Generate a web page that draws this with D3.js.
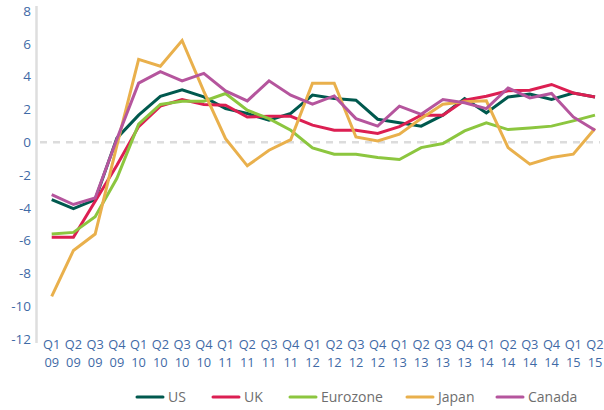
<!DOCTYPE html>
<html>
<head>
<meta charset="utf-8">
<script src="https://cdn.jsdelivr.net/npm/d3@7"></script>
<style>
  html, body { margin: 0; padding: 0; background: #fff; }
  svg { display: block; font-family: "Open Sans", "Noto Sans", sans-serif; }
</style>
</head>
<body>
<svg id="chart" width="604" height="410"></svg>
<script>
// Quarterly GDP growth, year on year (%)
const quarters = ["Q1 09","Q2 09","Q3 09","Q4 09","Q1 10","Q2 10","Q3 10","Q4 10",
  "Q1 11","Q2 11","Q3 11","Q4 11","Q1 12","Q2 12","Q3 12","Q4 12",
  "Q1 13","Q2 13","Q3 13","Q4 13","Q1 14","Q2 14","Q3 14","Q4 14","Q1 15","Q2 15"];

const us       = [-3.5, -4.05, -3.5, 0.25, 1.65, 2.8, 3.2, 2.76, 2.05, 1.75, 1.34, 1.75, 2.87, 2.66, 2.56, 1.4, 1.18, 0.98, 1.65, 2.66, 1.79, 2.76, 2.93, 2.6, 3.0, 2.76];
const uk       = [-5.8, -5.8, -3.6, -1.4, 0.95, 2.2, 2.6, 2.3, 2.26, 1.54, 1.58, 1.58, 1.04, 0.73, 0.73, 0.53, 0.95, 1.65, 1.65, 2.56, 2.8, 3.13, 3.17, 3.52, 3.0, 2.76];
const eurozone = [-5.6, -5.5, -4.55, -2.2, 1.1, 2.3, 2.5, 2.5, 2.97, 1.95, 1.44, 0.73, -0.35, -0.73, -0.73, -0.93, -1.06, -0.33, -0.08, 0.69, 1.18, 0.77, 0.87, 0.98, 1.3, 1.65];
const japan    = [-9.4, -6.6, -5.6, -0.2, 5.05, 4.63, 6.2, 3.1, 0.22, -1.44, -0.49, 0.16, 3.6, 3.6, 0.32, 0.08, 0.49, 1.44, 2.32, 2.46, 2.52, -0.33, -1.34, -0.93, -0.73, 0.83];
const canada   = [-3.2, -3.8, -3.4, 0.2, 3.6, 4.3, 3.74, 4.2, 3.13, 2.52, 3.74, 2.87, 2.32, 2.82, 1.44, 0.98, 2.2, 1.7, 2.6, 2.4, 2.05, 3.31, 2.7, 2.97, 1.54, 0.73];

const seriesNames  = ["US", "UK", "Eurozone", "Japan", "Canada"];
const seriesColors = ["#00594e", "#dc1f52", "#8cc63f", "#e9b04c", "#b5559d"];
const yTicks = [-12, -10, -8, -6, -4, -2, 0, 2, 4, 6, 8];

const series = [us, uk, eurozone, japan, canada].map((values, i) => ({
  name: seriesNames[i], color: seriesColors[i], values
}));

const svg = d3.select("#chart");

const x = d3.scalePoint().domain(quarters).range([51.7, 595]);
const y = d3.scaleLinear().domain([-12, 8]).range([339, 11]);

// Vertical axis rule
svg.append("line")
  .attr("x1", 36.5).attr("x2", 36.5)
  .attr("y1", 6).attr("y2", 343)
  .attr("stroke", "#dedede").attr("stroke-width", 2.5);

// Y axis labels
const yAxis = d3.axisLeft(y).tickValues(yTicks).tickSize(0).tickPadding(0)
  .tickFormat(d => d);
const yg = svg.append("g").attr("transform", "translate(31,0)").call(yAxis);
yg.select(".domain").remove();
yg.selectAll("text")
  .attr("fill", "#3f6aa6")
  .style("font-size", "13.5px")
  .style("font-family", "'Open Sans', sans-serif");

// Zero reference line
svg.append("line")
  .attr("x1", 40).attr("x2", 600)
  .attr("y1", y(0)).attr("y2", y(0))
  .attr("stroke", "#dcdcdc").attr("stroke-width", 2.5)
  .attr("stroke-dasharray", "7,6");

// X axis labels: quarter on the first line, year below
const xg = svg.append("g")
  .attr("fill", "#3f6aa6")
  .style("font-size", "12.8px");
quarters.forEach(q => {
  const [qq, yr] = q.split(" ");
  xg.append("text")
    .attr("x", x(q)).attr("y", 345).attr("dy", "0.35em")
    .attr("text-anchor", "middle")
    .text(qq);
  xg.append("text")
    .attr("x", x(q)).attr("y", 362.5).attr("dy", "0.35em")
    .attr("text-anchor", "middle")
    .text(yr);
});

// Series lines
const line = d3.line()
  .x((d, i) => x(quarters[i]))
  .y(d => y(d));

svg.append("g").selectAll("path")
  .data(series)
  .join("path")
  .attr("d", d => line(d.values))
  .attr("fill", "none")
  .attr("stroke", d => d.color)
  .attr("stroke-width", 3)
  .attr("stroke-linejoin", "miter");

// Legend
const legendX = [137, 213, 290, 407, 497];
const lg = svg.append("g");
series.forEach((s, i) => {
  const g = lg.append("g").attr("transform", `translate(${legendX[i]},397)`);
  g.append("line")
    .attr("x1", 0).attr("x2", 26)
    .attr("stroke", s.color).attr("stroke-width", 3)
    .attr("stroke-linecap", "round");
  g.append("text")
    .attr("x", 31).attr("y", 0).attr("dy", "0.35em")
    .attr("fill", "#6e6e6e")
    .style("font-size", "14px")
    .text(s.name);
});
</script>
</body>
</html>
